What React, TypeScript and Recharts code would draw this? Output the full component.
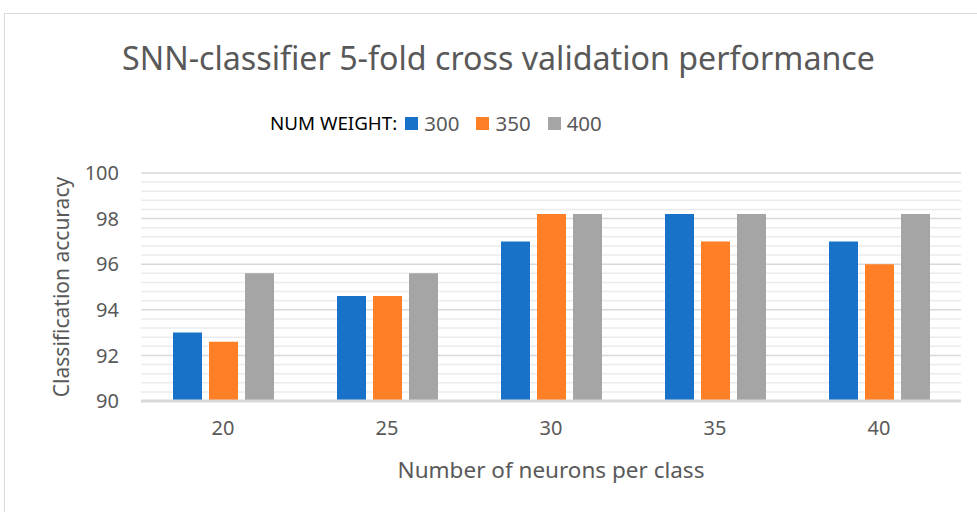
import React from 'react';
import { BarChart, Bar, XAxis, YAxis, CartesianGrid, ReferenceLine } from 'recharts';

const categories = ['20', '25', '30', '35', '40'];
const series300 = [93.0, 94.6, 97.0, 98.2, 97.0];
const series350 = [92.6, 94.6, 98.2, 97.0, 96.0];
const series400 = [95.6, 95.6, 98.2, 98.2, 98.2];
const seriesNames = ['300', '350', '400'];
const seriesColors = ['#1872c8', '#ff7f27', '#a5a5a5'];
const yTicks = [90, 92, 94, 96, 98, 100];
const minorTicks = [90.4, 90.8, 91.2, 91.6, 92.4, 92.8, 93.2, 93.6, 94.4, 94.8, 95.2, 95.6, 96.4, 96.8, 97.2, 97.6, 98.4, 98.8, 99.2, 99.6];

const data = categories.map((c, i) => ({ cat: c, s300: series300[i], s350: series350[i], s400: series400[i] }));

const FONT = '"Noto Sans", "Open Sans", sans-serif';
const GRAY_TEXT = '#595959';
const MARGIN = { top: 173, right: 16, bottom: 31, left: 41 };

export default function App() {
  return (
    <div style={{ position: 'absolute', left: 0, top: 0, width: 977, height: 512, background: '#fff', overflow: 'hidden' }}>
      <div style={{ position: 'absolute', left: 4, top: 13, width: 990, height: 520, border: '1px solid #d9d9d9', boxSizing: 'border-box' }} />
      <div style={{ position: 'absolute', left: 0, top: 36, width: 997, textAlign: 'center', fontFamily: FONT, fontSize: 32.2, color: GRAY_TEXT, lineHeight: '44px' }}>
        SNN-classifier 5-fold cross validation performance
      </div>
      <div style={{ position: 'absolute', left: 270, top: 109, display: 'flex', alignItems: 'center', fontFamily: FONT, whiteSpace: 'nowrap' }}>
        <span style={{ fontSize: 18.8, color: '#000', marginRight: 8 }}>NUM WEIGHT:</span>
        {seriesNames.map((n, i) => (
          <span key={n} style={{ display: 'flex', alignItems: 'center', marginRight: 17 }}>
            <span style={{ display: 'inline-block', width: 13, height: 13, background: seriesColors[i], marginRight: 6 }} />
            <span style={{ fontSize: 20.5, color: GRAY_TEXT }}>{n}</span>
          </span>
        ))}
      </div>
      {/* background layer: minor gridlines */}
      <div style={{ position: 'absolute', left: 0, top: 0 }}>
        <BarChart width={977} height={512} data={data} margin={MARGIN}>
          <XAxis dataKey="cat" height={80} tick={false} tickLine={false} axisLine={false} />
          <YAxis width={100} domain={[90, 100]} ticks={yTicks} tick={false} tickLine={false} axisLine={false} />
          <Bar dataKey="s400" fill="none" stroke="none" isAnimationActive={false} />
          {minorTicks.map((v) => (
            <ReferenceLine key={v} y={v} stroke="#ebebeb" strokeWidth={1.5} />
          ))}
        </BarChart>
      </div>
      <div style={{ position: 'absolute', left: 0, top: 0 }}>
        <BarChart width={977} height={512} data={data} margin={MARGIN} barGap={7} barSize={29}>
          <CartesianGrid vertical={false} stroke="#d9d9d9" strokeWidth={1.5} />
          <XAxis
            dataKey="cat"
            height={80}
            tickSize={0}
            tickMargin={20}
            axisLine={{ stroke: '#d9d9d9', strokeWidth: 3 }}
            tickLine={false}
            tick={{ fontSize: 20, fill: GRAY_TEXT, fontFamily: FONT }}
            label={{ value: 'Number of neurons per class', position: 'insideBottom', offset: 3, style: { fontSize: 22.5, fill: GRAY_TEXT, fontFamily: FONT } }}
          />
          <YAxis
            width={100}
            domain={[90, 100]}
            ticks={yTicks}
            tickSize={0}
            tickMargin={22}
            axisLine={false}
            tickLine={false}
            tick={{ fontSize: 20, fill: GRAY_TEXT, fontFamily: FONT }}
            label={{ value: 'Classification accuracy', angle: -90, position: 'insideLeft', offset: 21, style: { textAnchor: 'middle', fontSize: 21, fill: GRAY_TEXT, fontFamily: FONT } }}
          />
          <Bar dataKey="s300" name={seriesNames[0]} fill={seriesColors[0]} isAnimationActive={false} />
          <Bar dataKey="s350" name={seriesNames[1]} fill={seriesColors[1]} isAnimationActive={false} />
          <Bar dataKey="s400" name={seriesNames[2]} fill={seriesColors[2]} isAnimationActive={false} />
        </BarChart>
      </div>
    </div>
  );
}
